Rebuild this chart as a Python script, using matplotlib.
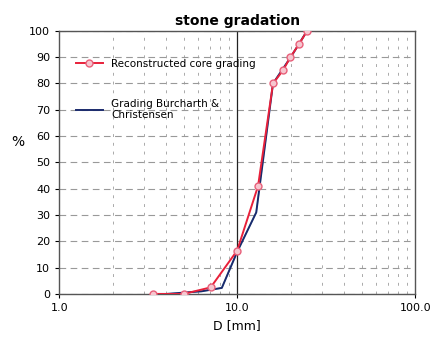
import matplotlib.pyplot as plt
from matplotlib.ticker import FixedLocator, LogLocator, NullFormatter

# grading curves, sieve size D [mm] vs percentage passing
core_d = [3.35, 5.0, 7.1, 10.0, 13.1, 15.9, 18.1, 19.9, 22.3, 24.7]
core_p = [0.0, 0.0, 2.5, 16.5, 41.0, 80.0, 85.0, 90.0, 95.0, 100.0]

bc_d = [3.35, 4.0, 5.0, 6.3, 8.2, 10.0, 12.8, 15.9, 20.0, 24.7]
bc_p = [0.0, 0.0, 0.5, 1.0, 2.3, 16.0, 31.0, 80.0, 90.0, 100.0]

y_ticks = list(range(0, 101, 10))
x_ticks = [1.0, 10.0, 100.0]
x_labels = ["1.0", "10.0", "100.0"]

fig = plt.figure(figsize=(4.32, 3.43), dpi=100)
ax = fig.add_axes([0.137, 0.143, 0.824, 0.767])

ax.set_xscale('log')
ax.set_xlim(1, 100)
ax.set_ylim(0, 100)

ax.plot(bc_d, bc_p, color='#7fd4f0', linewidth=1.0, zorder=3)
ax.plot(bc_d, bc_p, color='#1a2a6c', linewidth=1.4, zorder=4,
        label='Grading Burcharth &\nChristensen')
ax.plot(core_d, core_p, color='#e8203a', linewidth=1.4, zorder=5,
        marker='o', markersize=5, markerfacecolor='#f6c6cf',
        markeredgecolor='#e8607a', markeredgewidth=1.0,
        label='Reconstructed core grading')

ax.set_yticks(y_ticks)
ax.xaxis.set_major_locator(FixedLocator(x_ticks))
ax.set_xticklabels(x_labels)
ax.xaxis.set_minor_locator(LogLocator(base=10, subs=range(2, 10)))
ax.xaxis.set_minor_formatter(NullFormatter())
ax.tick_params(axis='both', labelsize=8, length=3, direction='out')
ax.tick_params(axis='x', which='minor', length=0)

ax.grid(True, which='major', axis='y', color='#999999', linestyle=(0, (6, 4)), linewidth=0.8)
ax.grid(True, which='minor', axis='x', color='#aaaaaa', linestyle=(0, (3, 6)), linewidth=0.7)
ax.axvline(10, color='#222222', linewidth=0.9, zorder=2)

for s in ax.spines.values():
    s.set_color('#555555')
    s.set_linewidth(1.0)

handles, labels = ax.get_legend_handles_labels()
ax.legend(handles[::-1], labels[::-1], loc='upper left', frameon=False,
          fontsize=7.5, bbox_to_anchor=(0.02, 0.93), labelspacing=2.9,
          handlelength=2.6)

ax.set_title('stone gradation', fontsize=10, fontweight='bold', pad=4)
ax.set_xlabel('D [mm]', fontsize=9)
ax.set_ylabel('%', fontsize=10, rotation=0, labelpad=14)
ax.yaxis.set_label_coords(-0.115, 0.55)

plt.savefig('out.png', dpi=100)
